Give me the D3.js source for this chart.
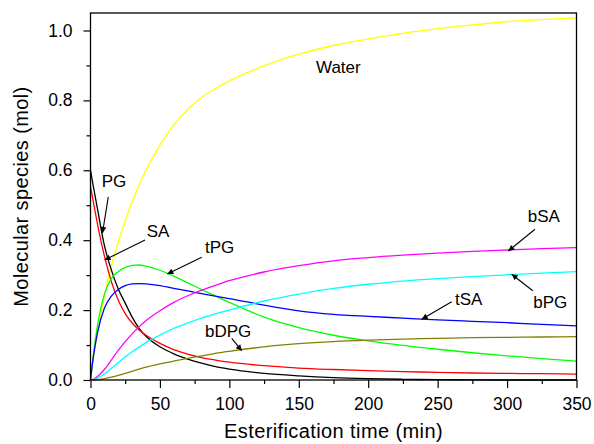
<!DOCTYPE html>
<html>
<head>
<meta charset="utf-8">
<script src="https://cdn.jsdelivr.net/npm/d3@7"></script>
<style>
  body { margin: 0; background: #fff; }
  svg { display: block; font-family: "Liberation Sans", Arial, sans-serif; }
  .tick text { font-size: 17.5px; fill: #000; }
  .tick line { stroke: #000; stroke-width: 1.2; }
</style>
</head>
<body>
<div class="chart-wrapper"></div>
<script>
// esterification time grid (min)
const times = [0, 2, 5, 10, 15, 20, 25, 30, 35, 40, 50, 60, 70, 80, 90, 100, 125, 150, 175, 200, 225, 250, 275, 300, 325, 350];

// molecular species (mol)
const water = [0, 0.06, 0.13, 0.24, 0.325, 0.395, 0.455, 0.51, 0.558, 0.6, 0.672, 0.73, 0.774, 0.808, 0.834, 0.856, 0.899, 0.932, 0.957, 0.976, 0.992, 1.005, 1.016, 1.025, 1.031, 1.036];
const pg = [0.6, 0.555, 0.49, 0.385, 0.315, 0.26, 0.22, 0.18, 0.148, 0.125, 0.095, 0.075, 0.06, 0.048, 0.038, 0.031, 0.019, 0.012, 0.007, 0.004, 0.002, 0.001, 0.0005, 0, 0, 0];
const sa = [0.553, 0.51, 0.447, 0.355, 0.282, 0.228, 0.19, 0.163, 0.143, 0.128, 0.105, 0.087, 0.074, 0.064, 0.057, 0.051, 0.041, 0.034, 0.03, 0.027, 0.024, 0.022, 0.02, 0.019, 0.018, 0.017];
const tpg = [0, 0.07, 0.155, 0.245, 0.29, 0.31, 0.322, 0.328, 0.329, 0.326, 0.314, 0.297, 0.278, 0.259, 0.24, 0.222, 0.18, 0.15, 0.128, 0.112, 0.099, 0.088, 0.078, 0.069, 0.061, 0.054];
const tsa = [0, 0.065, 0.135, 0.205, 0.24, 0.259, 0.27, 0.275, 0.276, 0.275, 0.27, 0.262, 0.255, 0.247, 0.24, 0.233, 0.214, 0.198, 0.188, 0.182, 0.177, 0.172, 0.168, 0.164, 0.159, 0.155];
const bsa = [0, 0.002, 0.01, 0.03, 0.057, 0.085, 0.11, 0.132, 0.152, 0.17, 0.198, 0.222, 0.241, 0.257, 0.271, 0.284, 0.309, 0.327, 0.341, 0.35, 0.357, 0.363, 0.368, 0.372, 0.376, 0.379];
const bpg = [0, 0.001, 0.005, 0.017, 0.033, 0.05, 0.066, 0.081, 0.094, 0.107, 0.128, 0.148, 0.163, 0.177, 0.189, 0.2, 0.226, 0.246, 0.262, 0.274, 0.283, 0.29, 0.296, 0.301, 0.306, 0.31];
const bdpg = [0, 0, 0.001, 0.004, 0.008, 0.013, 0.019, 0.025, 0.031, 0.037, 0.046, 0.054, 0.062, 0.069, 0.076, 0.082, 0.095, 0.104, 0.11, 0.114, 0.117, 0.119, 0.121, 0.122, 0.123, 0.124];

const seriesNames = ["Water", "PG", "SA", "tPG", "tSA", "bSA", "bPG", "bDPG"];
const seriesValues = [water, pg, sa, tpg, tsa, bsa, bpg, bdpg];
const seriesColors = ["#ffff00", "#000000", "#ff0000", "#00ff00", "#0000ff", "#ff00ff", "#00ffff", "#808000"];

// tick values
const xMajor = [0, 50, 100, 150, 200, 250, 300, 350];
const xMinor = [25, 75, 125, 175, 225, 275, 325];
const yMajor = [0, 0.2, 0.4, 0.6, 0.8, 1.0];
const yMinor = [0.1, 0.3, 0.5, 0.7, 0.9];

// annotations in data units: label anchor, arrow start, arrow tip
const labelText = ["Water", "PG", "SA", "tPG", "bSA", "bPG", "tSA", "bDPG"];
const labelPos = [[162.4, 0.877], [8.1, 0.553], [40.5, 0.41], [82.5, 0.3625], [314.9, 0.453], [318.9, 0.205], [262.5, 0.2146], [82.5, 0.124]];
const arrowFrom = [null, [12.8, 0.524], [39.25, 0.4006], [80.1, 0.3511], [320.1, 0.4312], [318.5, 0.2555], [260.1, 0.224], [101.7, 0.1193]];
const arrowTo = [null, [8.64, 0.4206], [10.1, 0.3433], [55.3, 0.3033], [300.9, 0.3691], [303.3, 0.3024], [238.5, 0.1737], [108.9, 0.0838]];

const svgWidth = 594, svgHeight = 444;
const margin = { top: 13, right: 17.5, bottom: 64, left: 90.5 };
const innerW = svgWidth - margin.left - margin.right;
const innerH = svgHeight - margin.top - margin.bottom;

const svg = d3.select(".chart-wrapper")
    .append("svg")
    .attr("width", svgWidth)
    .attr("height", svgHeight);

svg.append("defs").append("marker")
    .attr("id", "head")
    .attr("viewBox", "0 0 10 10")
    .attr("refX", 10).attr("refY", 5)
    .attr("markerWidth", 9).attr("markerHeight", 6)
    .attr("markerUnits", "userSpaceOnUse")
    .attr("orient", "auto")
    .append("path")
    .attr("d", "M0,0L10,5L0,10Z")
    .attr("fill", "#000");

const chart = svg.append("g")
    .attr("transform", `translate(${margin.left},${margin.top})`);

const x = d3.scaleLinear().domain([0, 350]).range([0, innerW]);
const y = d3.scaleLinear().domain([0, 1.05]).range([innerH, 0]);

// minor ticks
chart.append("g")
    .attr("transform", `translate(0,${innerH})`)
    .call(d3.axisBottom(x).tickValues(xMinor).tickSize(4).tickSizeOuter(0).tickFormat(""))
    .call(g => g.select(".domain").remove());
chart.append("g")
    .call(d3.axisLeft(y).tickValues(yMinor).tickSize(4).tickSizeOuter(0).tickFormat(""))
    .call(g => g.select(".domain").remove());

// major ticks with labels
chart.append("g")
    .attr("transform", `translate(0,${innerH})`)
    .call(d3.axisBottom(x).tickValues(xMajor).tickSize(8).tickPadding(9.5).tickSizeOuter(0).tickFormat(d3.format("d")))
    .call(g => g.select(".domain").remove());
chart.append("g")
    .call(d3.axisLeft(y).tickValues(yMajor).tickSize(7).tickPadding(11).tickSizeOuter(0).tickFormat(d3.format(".1f")))
    .call(g => g.select(".domain").remove());

// curves
const line = d3.line()
    .x((d, i) => x(times[i]))
    .y(d => y(d))
    .curve(d3.curveMonotoneX);

chart.selectAll(".series")
    .data(seriesValues)
    .enter()
    .append("path")
    .attr("class", "series")
    .attr("d", d => line(d))
    .attr("fill", "none")
    .attr("stroke", (d, i) => seriesColors[i])
    .attr("stroke-width", 1.3);

// frame
chart.append("rect")
    .attr("width", innerW)
    .attr("height", innerH)
    .attr("fill", "none")
    .attr("stroke", "#000")
    .attr("stroke-width", 1.3);

// labels and arrows
chart.selectAll(".lbl")
    .data(labelText)
    .enter()
    .append("text")
    .attr("class", "lbl")
    .attr("x", (d, i) => x(labelPos[i][0]))
    .attr("y", (d, i) => y(labelPos[i][1]))
    .style("font-size", "17px")
    .text(d => d);

chart.selectAll(".arrow")
    .data(arrowFrom.map((f, i) => [f, arrowTo[i]]).filter(d => d[0]))
    .enter()
    .append("line")
    .attr("x1", d => x(d[0][0]))
    .attr("y1", d => y(d[0][1]))
    .attr("x2", d => x(d[1][0]))
    .attr("y2", d => y(d[1][1]))
    .attr("stroke", "#000")
    .attr("stroke-width", 1.1)
    .attr("marker-end", "url(#head)");

// axis titles
svg.append("text")
    .attr("x", margin.left + innerW / 2)
    .attr("y", 438)
    .attr("text-anchor", "middle")
    .style("font-size", "20px")
    .style("letter-spacing", "0.4px")
    .text("Esterification time (min)");

svg.append("text")
    .attr("transform", `translate(28,${margin.top + innerH / 2}) rotate(-90)`)
    .attr("text-anchor", "middle")
    .style("font-size", "20px")
    .style("letter-spacing", "0.4px")
    .text("Molecular species (mol)");
</script>
</body>
</html>
